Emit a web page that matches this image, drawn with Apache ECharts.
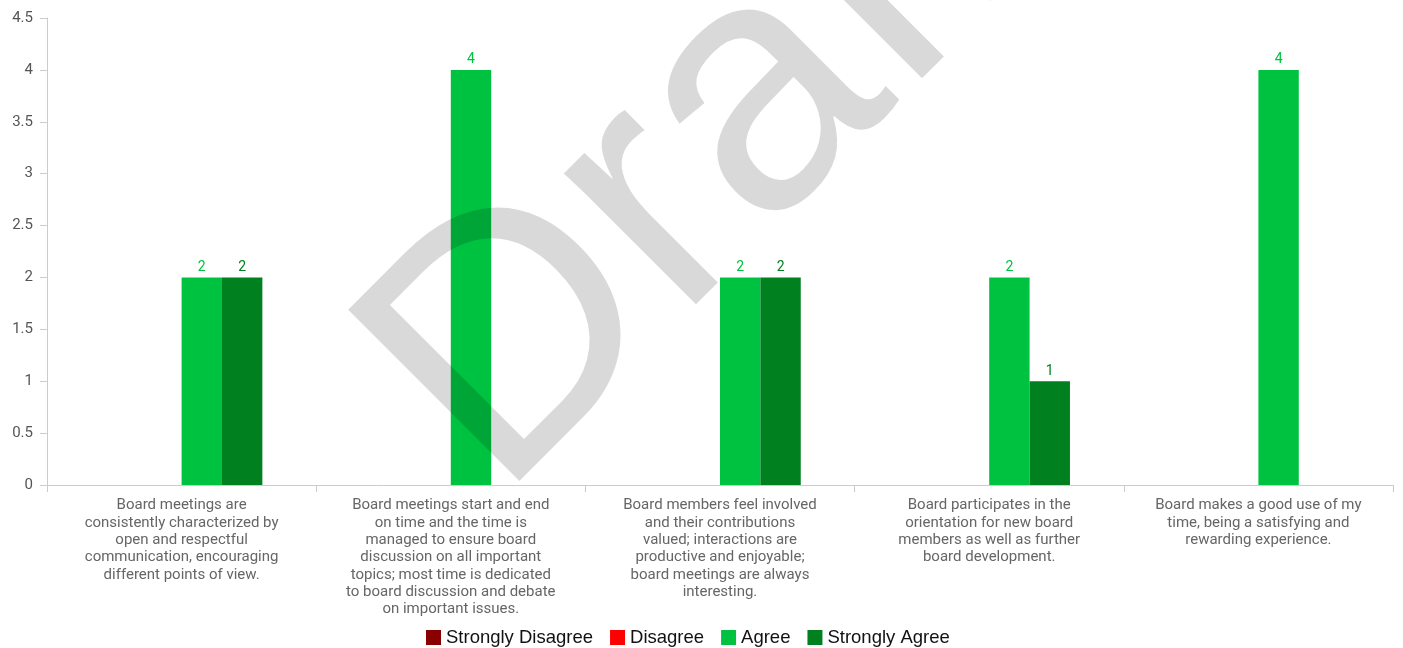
<!DOCTYPE html>
<html>
<head>
<meta charset="utf-8">
<script src="https://cdn.jsdelivr.net/npm/echarts@6/dist/echarts.min.js"></script>
<style>html,body{margin:0;padding:0;background:#fff}#c{width:1403px;height:648px}</style>
</head>
<body>
<div id="c"></div>
<script>
const categories = [
  "Board meetings are\nconsistently characterized by\nopen and respectful\ncommunication, encouraging\ndifferent points of view.",
  "Board meetings start and end\non time and the time is\nmanaged to ensure board\ndiscussion on all important\ntopics; most time is dedicated\nto board discussion and debate\non important issues.",
  "Board members feel involved\nand their contributions\nvalued; interactions are\nproductive and enjoyable;\nboard meetings are always\ninteresting.",
  "Board participates in the\norientation for new board\nmembers as well as further\nboard development.",
  "Board makes a good use of my\ntime, being a satisfying and\nrewarding experience."
];
const seriesNames = ["Strongly Disagree", "Disagree", "Agree", "Strongly Agree"];
const stronglyDisagree = [0, 0, 0, 0, 0];
const disagree = [0, 0, 0, 0, 0];
const agree = [2, 4, 2, 2, 4];
const stronglyAgree = [2, 0, 2, 1, 0];
const colors = ["#880000", "#ff0000", "#00c241", "#00801f"];
const yTicks = { min: 0, max: 4.5, interval: 0.5 };
const watermark = "Draft";

const values = [stronglyDisagree, disagree, agree, stronglyAgree];
const chart = echarts.init(document.getElementById('c'), null, { renderer: 'canvas' });
chart.setOption({
  animation: false,
  color: colors,
  grid: { left: 47, right: 10, top: 18, bottom: 163, containLabel: false },
  legend: {
    top: 623,
    left: 421,
    itemWidth: 15, itemHeight: 15, itemGap: 17,
    icon: 'rect',
    textStyle: { fontFamily: 'Liberation Sans, Arial', fontSize: 18.5, color: '#111' },
    data: seriesNames
  },
  xAxis: {
    type: 'category',
    data: categories,
    axisLine: { lineStyle: { color: '#cccccc', width: 1 } },
    axisTick: { show: true, length: 7, lineStyle: { color: '#cccccc' } },
    axisLabel: {
      interval: 0, margin: 12,
      fontFamily: 'Roboto', fontSize: 15, color: '#666', lineHeight: 17.3
    }
  },
  yAxis: {
    type: 'value',
    min: yTicks.min, max: yTicks.max, interval: yTicks.interval,
    splitLine: { show: false },
    axisLine: { show: true, lineStyle: { color: '#cccccc' } },
    axisTick: { show: true, length: 7, lineStyle: { color: '#cccccc' } },
    axisLabel: { margin: 14, fontFamily: 'Roboto', fontSize: 15, color: '#555' }
  },
  series: seriesNames.map((n, i) => ({
    name: n,
    type: 'bar',
    data: values[i],
    barGap: '0%',
    barCategoryGap: '40%',
    label: {
      show: true, position: 'top', distance: 3,
      color: colors[i], fontFamily: 'Roboto', fontSize: 14,
      formatter: p => (p.value ? String(p.value) : '')
    }
  })),
  graphic: [{
    type: 'text',
    z: 100,
    x: 700, y: 163,
    rotation: Math.PI / 4,
    silent: true,
    style: {
      text: watermark,
      font: '352px "Liberation Sans", Arial, sans-serif',
      fill: 'rgba(0,0,0,0.15)',
      align: 'center',
      verticalAlign: 'middle'
    }
  }]
});
</script>
</body>
</html>
